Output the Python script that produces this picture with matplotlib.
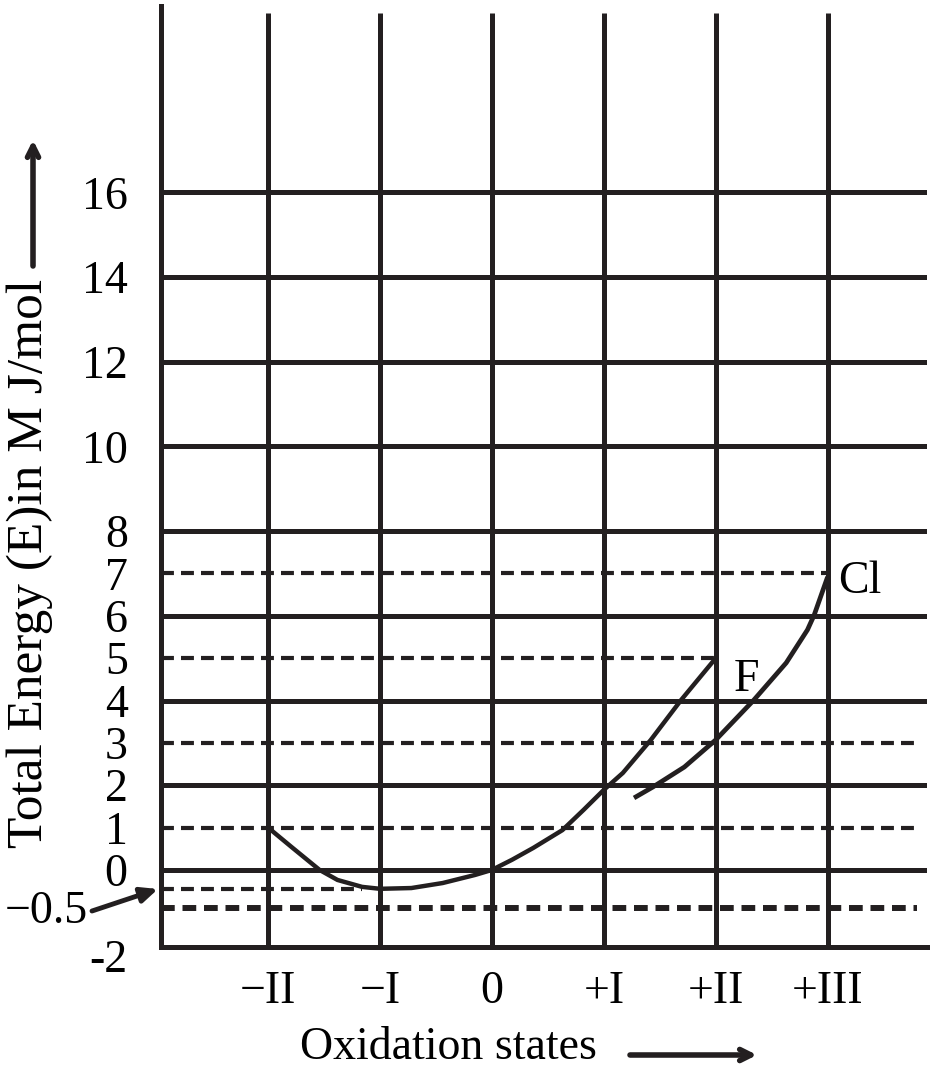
import numpy as np
import matplotlib
matplotlib.use("Agg")
import matplotlib.pyplot as plt
from matplotlib.transforms import ScaledTranslation

# ---- data ----
x_ticks = [-2, -1, 0, 1, 2, 3]
x_labels = ["\u2212II", "\u2212I", "0", "+I", "+II", "+III"]
y_ticks = [-2, 0, 1, 2, 3, 4, 5, 6, 7, 8, 10, 12, 14, 16]
y_labels = ["-2", "0", "1", "2", "3", "4", "5", "6", "7", "8", "10", "12", "14", "16"]
solid_levels = [0, 2, 4, 6, 8, 10, 12, 14, 16]

# F curve (runs from -II through the minimum near -I up to +II)
f_x = [-2.0, -1.79, -1.54, -1.38, -1.16, -1.0, -0.72, -0.44, -0.15, 0.0,
       0.18, 0.37, 0.63, 0.82, 1.0, 1.17, 1.42, 1.69, 2.0]
f_y = [1.0, 0.54, 0.0, -0.26, -0.44, -0.49, -0.47, -0.34, -0.13, 0.0,
       0.24, 0.52, 0.94, 1.42, 1.89, 2.29, 3.07, 4.01, 5.0]
# Cl curve
cl_x = [1.27, 1.44, 1.72, 2.0, 2.34, 2.63, 2.82, 2.88, 3.0]
cl_y = [1.70, 1.96, 2.43, 3.07, 4.01, 4.89, 5.67, 6.02, 6.92]

INK = "#231f20"
FONT = "Liberation Serif"
FS = 33

def fwd(y):
    y = np.asarray(y, dtype=float)
    return np.where(y < 0, y * 0.91, y)

def inv(v):
    v = np.asarray(v, dtype=float)
    return np.where(v < 0, v / 0.91, v)

fig = plt.figure(figsize=(9.33, 10.71), dpi=100)
W, H = 933, 1071
ax = fig.add_axes([161 / W, 124 / H, (927 - 161) / W, (1065 - 124) / H])
ax.set_yscale("function", functions=(fwd, inv))
x_left, x_right = -2.957, 3.888
ax.set_xlim(x_left, x_right)
ax.set_ylim(-2, 20.4)

for s in ["top", "right"]:
    ax.spines[s].set_visible(False)
for s in ["left", "bottom"]:
    ax.spines[s].set_linewidth(3.6)
    ax.spines[s].set_color(INK)

# vertical grid lines
ax.vlines(x_ticks, -2, 20.24, colors=INK, linewidth=3.6, zorder=2)
# solid horizontal lines
for lv in solid_levels:
    ax.plot([x_left, x_right], [lv, lv], color=INK, linewidth=3.6, zorder=2,
            solid_capstyle="butt")
# dashed horizontal lines
ax.plot([x_left, 3.80], [1, 1], color=INK, lw=3.0, ls=(0, (3.1, 1.7)), zorder=2)
ax.plot([x_left, 3.80], [3, 3], color=INK, lw=3.0, ls=(0, (3.1, 1.7)), zorder=2)
ax.plot([x_left, 2.0], [5, 5], color=INK, lw=3.0, ls=(0, (3.1, 1.7)), zorder=2)
ax.plot([x_left, 3.0], [7, 7], color=INK, lw=3.0, ls=(0, (3.1, 1.7)), zorder=2)
ax.plot([x_left, -1.16], [-0.5, -0.5], color=INK, lw=3.0, ls=(0, (3.1, 1.7)), zorder=2)
ax.plot([x_left, 3.80], [-1, -1], color=INK, lw=4.3, ls=(0, (2.3, 1.3)), zorder=2)

# curves
ax.plot(f_x, f_y, color=INK, lw=3.2, zorder=3, solid_capstyle="butt",
        solid_joinstyle="round")
ax.plot(cl_x, cl_y, color=INK, lw=3.4, zorder=3, solid_capstyle="butt",
        solid_joinstyle="round")

ax.text(2.16, 4.5, "F", fontsize=FS, family=FONT, ha="left", va="center", color="black")
ax.text(3.09, 6.8, "Cl", fontsize=FS, family=FONT, ha="left", va="center", color="black")

# ticks
ax.set_xticks(x_ticks)
ax.set_xticklabels(x_labels, fontsize=FS, family=FONT)
ax.set_yticks(y_ticks)
ax.set_yticklabels(y_labels, fontsize=FS, family=FONT)
ax.tick_params(axis="x", length=0, pad=17)
ax.tick_params(axis="y", length=0, pad=24)
ax.minorticks_off()
# nudge the "-2" label slightly below the axis line, as in the reference
lbl = ax.get_yticklabels()[0]
lbl.set_transform(lbl.get_transform() + ScaledTranslation(0, -9 / 100, fig.dpi_scale_trans))

# -0.5 annotation with arrow
fig.text(46 / W, 1 - 912 / H, "\u22120.5", fontsize=FS, family=FONT,
         ha="center", va="center")
ax.annotate("", xy=(158 / W, 1 - 889 / H), xycoords="figure fraction",
            xytext=(92 / W, 1 - 911 / H), textcoords="figure fraction",
            arrowprops=dict(arrowstyle="-|>,head_length=1.0,head_width=0.45",
                            color=INK, lw=3.5, shrinkA=0, shrinkB=0))

# axis titles with arrows
fig.text(300 / W, 1 - 1069 / H, "Oxidation states", fontsize=FS, family=FONT,
         ha="left", va="bottom")
ax.annotate("", xy=(757 / W, 1 - 1055 / H), xycoords="figure fraction",
            xytext=(630 / W, 1 - 1055 / H), textcoords="figure fraction",
            arrowprops=dict(arrowstyle="->,head_length=0.8,head_width=0.4",
                            color=INK, lw=4, shrinkA=0, shrinkB=0))
fig.text(30 / W, 1 - 563 / H, "Total Energy (E)in M J/mol", fontsize=37, family=FONT,
         rotation=90, ha="center", va="center")
ax.annotate("", xy=(33 / W, 1 - 140 / H), xycoords="figure fraction",
            xytext=(33 / W, 1 - 266 / H), textcoords="figure fraction",
            arrowprops=dict(arrowstyle="->,head_length=0.8,head_width=0.4",
                            color=INK, lw=4, shrinkA=0, shrinkB=0))

fig.savefig("out.png", dpi=100, facecolor="white")
